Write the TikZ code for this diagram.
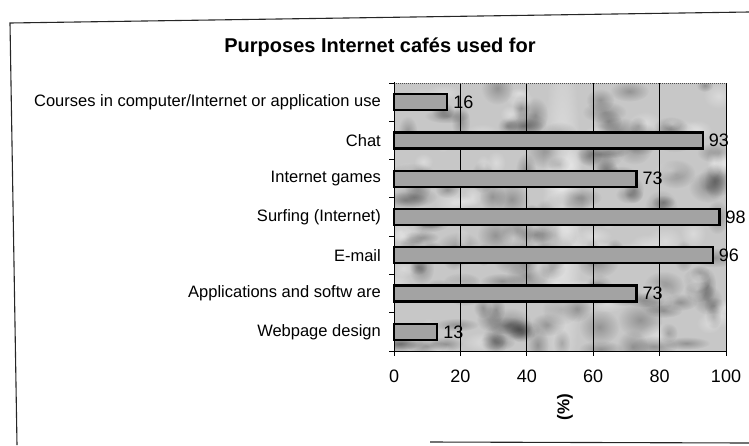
\documentclass[tikz,border=0pt]{standalone}
\usepackage{fontspec}
\setmainfont{Liberation Sans}
\usetikzlibrary{fadings}

% radial fading: opaque centre, transparent rim
\tikzfading[name=softspot, inner color=transparent!0, outer color=transparent!100]

\tikzset{
  framerule/.style={line width=1.1pt, black!85},
  plotbg/.style={fill=black!22},
  gridrule/.style={line width=0.9pt, black},
  axisrule/.style={line width=1pt, black},
  barbox/.style={draw=black, line width=2.4pt, fill=black!36},
  darkspot/.style={fill=black, opacity=0.26, path fading=softspot},
  lightspot/.style={fill=white, opacity=0.34, path fading=softspot},
  catlabel/.style={anchor=east, inner sep=0pt, font=\fontsize{16.5}{18}\selectfont},
  vallabel/.style={anchor=west, inner sep=0pt, font=\fontsize{18}{20}\selectfont},
  ticklabel/.style={anchor=center, inner sep=0pt, font=\fontsize{18}{20}\selectfont},
  titlelabel/.style={anchor=center, inner sep=0pt, font=\bfseries\fontsize{20}{22}\selectfont},
}

\begin{document}
\begin{tikzpicture}[x=1pt, y=-1pt]
  \useasboundingbox (0,0) rectangle (749,445);

  % outer frame of the chart
  \draw[framerule] (17,445) -- (10,23) -- (749,12);
  \draw[framerule] (430,442) -- (749,443);

  % title
  \node[titlelabel] (title) at (380,47) {Purposes Internet cafés used for};

  % plot area geometry: left 394, right 726, top 83, bottom 351; 3.32 per percent
  \def\pl{394}\def\pr{726}\def\pt{83}\def\pb{351}\def\band{38.2857}

  % marbled plot area background
  \fill[plotbg] (\pl,\pt) rectangle (\pr,\pb);
  \begin{scope}
    \clip (\pl,\pt) rectangle (\pr,\pb);
    \pgfmathsetseed{12}
    \foreach \k in {1,...,130} {
      \pgfmathsetmacro\bx{\pl+rnd*332}
      \pgfmathsetmacro\by{\pt+rnd*268}
      \pgfmathsetmacro\ra{8+rnd*16}
      \pgfmathsetmacro\rb{6+rnd*12}
      \fill[darkspot] (\bx,\by) ellipse ({\ra} and {\rb});
    }
    \foreach \k in {1,...,70} {
      \pgfmathsetmacro\bx{\pl+rnd*332}
      \pgfmathsetmacro\by{\pt+rnd*268}
      \pgfmathsetmacro\ra{7+rnd*14}
      \pgfmathsetmacro\rb{5+rnd*10}
      \fill[lightspot] (\bx,\by) ellipse ({\ra} and {\rb});
    }
    % lighter streak in the middle column
    \fill[white, opacity=0.55, path fading=softspot] (562,217) ellipse (20 and 190);
  \end{scope}

  % vertical grid lines
  \foreach \v in {20,40,60,80} {
    \draw[gridrule] ({\pl+3.32*\v},\pt) -- ({\pl+3.32*\v},\pb);
  }
  % plot area border (top and right)
  \draw[line width=1pt, black!70, densely dotted] (\pl,\pt) -- (\pr,\pt);
  \draw[gridrule] (\pr,\pt) -- (\pr,\pb);

  % bars with value labels and category labels
  \foreach \v/\i/\name/\txt in {
      16/0/courses/{Courses in computer/Internet or application use},
      93/1/chat/{Chat},
      73/2/games/{Internet games},
      98/3/surf/{Surfing (Internet)},
      96/4/email/{E-mail},
      73/5/apps/{Applications and softw are},
      13/6/web/{Webpage design}} {
    \pgfmathsetmacro\yc{\pt+\band*(\i+0.5)}
    \draw[barbox] (\pl,\yc-8) rectangle ({\pl+3.32*\v},\yc+8);
    \coordinate (end-\name) at ({\pl+3.32*\v},\yc);
    \node[vallabel] (val-\name) at ([xshift=6pt]end-\name) {\v};
    \node[catlabel] (cat-\name) at (381,\yc) {\txt};
  }

  % category axis with tick marks
  \draw[axisrule] (\pl,\pt-1) -- (\pl,\pb+4);
  \foreach \i in {0,...,7} {
    \draw[axisrule] (\pl-5,{\pt+\band*\i}) -- (\pl,{\pt+\band*\i});
  }

  % value axis with tick marks and labels
  \draw[axisrule] (\pl-2,\pb) -- (\pr,\pb);
  \foreach \v in {0,20,40,60,80,100} {
    \draw[axisrule] ({\pl+3.32*\v},\pb) -- ({\pl+3.32*\v},\pb+5);
    \node[ticklabel] (tick-\v) at ({\pl+3.32*\v},376) {\v};
  }

  % value axis title
  \node[titlelabel, font=\bfseries\fontsize{17}{19}\selectfont, rotate=90] (unit) at (565,407) {(\%)};
\end{tikzpicture}
\end{document}
